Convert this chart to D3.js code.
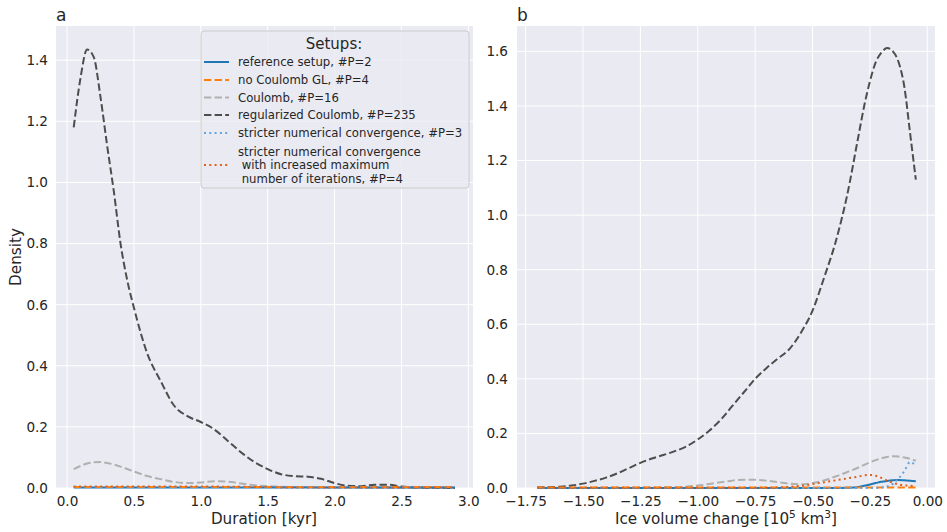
<!DOCTYPE html>
<html>
<head>
<meta charset="utf-8">
<script src="https://cdn.jsdelivr.net/npm/d3@7"></script>
<style>
  body { margin: 0; background: #fff; }
  svg text { font-family: "DejaVu Sans", sans-serif; fill: #262626; }
</style>
</head>
<body>
<svg id="chart" width="947" height="532"></svg>
<script>
// panel a: duration [kyr]
var durX = [0.05, 0.1, 0.15, 0.2, 0.25, 0.3, 0.35, 0.4, 0.45, 0.5, 0.6, 0.7, 0.8, 0.9, 1.0, 1.1, 1.2, 1.3, 1.4, 1.5, 1.6, 1.7, 1.8, 1.9, 2.0, 2.1, 2.2, 2.3, 2.4, 2.5, 2.6, 2.7, 2.8, 2.9];
var durRef      = [0.002, 0.002, 0.002, 0.002, 0.002, 0.002, 0.002, 0.002, 0.002, 0.002, 0.002, 0.002, 0.002, 0.002, 0.002, 0.002, 0.002, 0.002, 0.002, 0.002, 0.002, 0.002, 0.002, 0.002, 0.002, 0.002, 0.002, 0.002, 0.002, 0.002, 0.002, 0.002, 0.002, 0.002];
var durNoGL     = [0.003, 0.003, 0.003, 0.003, 0.003, 0.003, 0.003, 0.003, 0.003, 0.003, 0.003, 0.003, 0.003, 0.003, 0.003, 0.003, 0.003, 0.003, 0.003, 0.003, 0.003, 0.003, 0.003, 0.003, 0.003, 0.003, 0.003, 0.003, 0.003, 0.003, 0.003, 0.003, 0.003, 0.003];
var durCoulomb  = [0.062, 0.072, 0.08, 0.084, 0.085, 0.082, 0.077, 0.07, 0.062, 0.054, 0.039, 0.029, 0.02, 0.016, 0.018, 0.022, 0.021, 0.015, 0.009, 0.006, 0.004, 0.003, 0.003, 0.002, 0.002, 0.002, 0.001, 0.001, 0.001, 0.001, 0.001, 0.001, 0.001, 0.001];
var durReg      = [1.18, 1.34, 1.435, 1.41, 1.28, 1.12, 0.97, 0.8, 0.68, 0.59, 0.44, 0.35, 0.27, 0.235, 0.216, 0.192, 0.155, 0.117, 0.085, 0.062, 0.045, 0.039, 0.037, 0.03, 0.016, 0.007, 0.006, 0.011, 0.011, 0.005, 0.002, 0.001, 0.0005, 0.0003];
var durStrict   = [0.003, 0.003, 0.003, 0.003, 0.003, 0.003, 0.003, 0.003, 0.003, 0.003, 0.003, 0.003, 0.003, 0.003, 0.003, 0.003, 0.003, 0.003, 0.003, 0.003, 0.003, 0.003, 0.003, 0.003, 0.003, 0.003, 0.003, 0.003, 0.003, 0.003, 0.002, 0.002, 0.002, 0.002];
var durStrictIt = [0.005, 0.005, 0.005, 0.005, 0.005, 0.005, 0.005, 0.005, 0.005, 0.005, 0.005, 0.005, 0.005, 0.005, 0.005, 0.005, 0.004, 0.004, 0.003, 0.003, 0.002, 0.002, 0.002, 0.002, 0.002, 0.002, 0.002, 0.002, 0.002, 0.002, 0.002, 0.002, 0.002, 0.002];

// panel b: ice volume change [10^5 km^3]
var volX = [-1.7, -1.65, -1.6, -1.55, -1.5, -1.45, -1.4, -1.35, -1.3, -1.25, -1.2, -1.15, -1.1, -1.05, -1.0, -0.95, -0.9, -0.85, -0.8, -0.75, -0.7, -0.65, -0.6, -0.55, -0.5, -0.45, -0.4, -0.35, -0.3, -0.275, -0.25, -0.225, -0.2, -0.175, -0.15, -0.125, -0.1, -0.075, -0.05];
var volRef      = [0, 0, 0, 0, 0, 0, 0, 0, 0, 0, 0, 0, 0, 0, 0, 0, 0, 0, 0, 0, 0, 0, 0, 0, 0, 0, 0, 0.001, 0.004, 0.008, 0.013, 0.018, 0.023, 0.026, 0.028, 0.029, 0.028, 0.027, 0.025];
var volNoGL     = [0.002, 0.002, 0.002, 0.002, 0.002, 0.002, 0.002, 0.002, 0.002, 0.002, 0.002, 0.002, 0.002, 0.002, 0.002, 0.002, 0.002, 0.002, 0.002, 0.002, 0.002, 0.002, 0.002, 0.002, 0.002, 0.002, 0.002, 0.002, 0.002, 0.002, 0.002, 0.002, 0.002, 0.002, 0.002, 0.002, 0.002, 0.002, 0.002];
var volCoulomb  = [0.001, 0.001, 0.001, 0.001, 0.001, 0.001, 0.001, 0.001, 0.001, 0.001, 0.001, 0.002, 0.003, 0.005, 0.009, 0.015, 0.021, 0.027, 0.03, 0.03, 0.027, 0.021, 0.016, 0.014, 0.018, 0.028, 0.042, 0.058, 0.075, 0.085, 0.094, 0.102, 0.109, 0.114, 0.116, 0.115, 0.112, 0.107, 0.1];
var volReg      = [0.002, 0.003, 0.005, 0.009, 0.016, 0.026, 0.038, 0.054, 0.073, 0.092, 0.108, 0.121, 0.135, 0.152, 0.178, 0.21, 0.25, 0.3, 0.35, 0.4, 0.44, 0.475, 0.51, 0.57, 0.65, 0.77, 0.9, 1.07, 1.29, 1.4, 1.49, 1.56, 1.595, 1.612, 1.6, 1.56, 1.47, 1.3, 1.13];
var volStrict   = [0, 0, 0, 0, 0, 0, 0, 0, 0, 0, 0, 0, 0, 0, 0, 0, 0, 0, 0, 0, 0, 0, 0, 0, 0, 0, 0, 0, 0, 0, 0, 0, 0.002, 0.006, 0.015, 0.035, 0.062, 0.095, 0.082];
var volStrictIt = [0.001, 0.001, 0.001, 0.001, 0.001, 0.001, 0.001, 0.001, 0.001, 0.001, 0.001, 0.001, 0.001, 0.001, 0.001, 0.001, 0.001, 0.001, 0.001, 0.001, 0.001, 0.002, 0.004, 0.008, 0.014, 0.021, 0.028, 0.035, 0.042, 0.046, 0.048, 0.045, 0.037, 0.027, 0.019, 0.013, 0.01, 0.008, 0.007];

var durTicks = [0, 0.5, 1, 1.5, 2, 2.5, 3];
var volTicks = [-1.75, -1.5, -1.25, -1, -0.75, -0.5, -0.25, 0];

var setups = [
    {label: ["reference setup, #P=2"], color: "#1f77b4", dash: null},
    {label: ["no Coulomb GL, #P=4"], color: "#ff7f0e", dash: "7.4,3.2"},
    {label: ["Coulomb, #P=16"], color: "#b0b0b0", dash: "7.4,3.2"},
    {label: ["regularized Coulomb, #P=235"], color: "#4d4d4d", dash: "7.4,3.2"},
    {label: ["stricter numerical convergence, #P=3"], color: "#65a3dc", dash: "2,3.3"},
    {label: ["stricter numerical convergence", " with increased maximum", " number of iterations, #P=4"], color: "#e0601a", dash: "2,3.3"}
];
var durSeries = [durRef, durNoGL, durCoulomb, durReg, durStrict, durStrictIt];
var volSeries = [volRef, volNoGL, volCoulomb, volReg, volStrict, volStrictIt];

var svg = d3.select("#chart");
var plotTop = 26, plotBottom = 488;

function panel(opts) {
    var x = d3.scaleLinear().domain(opts.xDomain).range([opts.left, opts.right]);
    var y = d3.scaleLinear().domain(opts.yDomain).range([plotBottom, plotTop]);
    var g = svg.append("g");

    g.append("rect")
        .attr("x", opts.left).attr("y", plotTop)
        .attr("width", opts.right - opts.left).attr("height", plotBottom - plotTop)
        .attr("fill", "#eaeaf2");

    // grid
    g.append("g").selectAll("line")
        .data(opts.xTicks).enter().append("line")
        .attr("x1", d => x(d)).attr("x2", d => x(d))
        .attr("y1", plotTop).attr("y2", plotBottom)
        .attr("stroke", "#fff").attr("stroke-width", 1);
    g.append("g").selectAll("line")
        .data(opts.yTicks).enter().append("line")
        .attr("x1", opts.left).attr("x2", opts.right)
        .attr("y1", d => y(d)).attr("y2", d => y(d))
        .attr("stroke", "#fff").attr("stroke-width", 1);

    var xAxis = d3.axisBottom(x).tickValues(opts.xTicks).tickSize(0).tickPadding(8)
        .tickFormat(d => opts.xFmt(d).replace("-", "\u2212"));
    g.append("g").attr("transform", "translate(0," + plotBottom + ")").call(xAxis)
        .call(s => s.select(".domain").remove())
        .selectAll("text").style("font-size", "13.6px").attr("fill", "#262626");

    var yAxis = d3.axisLeft(y).tickValues(opts.yTicks).tickSize(0).tickPadding(opts.left - opts.yLabelEnd)
        .tickFormat(d3.format(".1f"));
    g.append("g").attr("transform", "translate(" + opts.left + ",0)").call(yAxis)
        .call(s => s.select(".domain").remove())
        .selectAll("text").style("font-size", "13.6px").attr("fill", "#262626");

    var line = d3.line().x(p => x(p[0])).y(p => y(p[1])).curve(d3.curveMonotoneX);
    var order = [2, 3, 0, 1, 4, 5];
    order.forEach(function (i) {
        var pts = opts.xs.map((v, k) => [v, opts.series[i][k]]);
        g.append("path")
            .datum(pts)
            .attr("d", line)
            .attr("fill", "none")
            .attr("stroke", setups[i].color)
            .attr("stroke-width", 2)
            .attr("stroke-dasharray", setups[i].dash);
    });

    g.append("text").attr("x", opts.left).attr("y", 21)
        .style("font-size", "17px").text(opts.title);

    return g;
}

panel({
    left: 56, right: 473, xDomain: [-0.0825, 3.035], yDomain: [0, 1.512],
    xTicks: durTicks, yTicks: [0, 0.2, 0.4, 0.6, 0.8, 1.0, 1.2, 1.4],
    xFmt: d3.format(".1f"), yLabelEnd: 48,
    xs: durX, series: durSeries, title: "a"
});
panel({
    left: 517, right: 935, xDomain: [-1.7875, 0.0335], yDomain: [0, 1.693],
    xTicks: volTicks, yTicks: [0, 0.2, 0.4, 0.6, 0.8, 1.0, 1.2, 1.4, 1.6],
    xFmt: d3.format(".2f"), yLabelEnd: 508,
    xs: volX, series: volSeries, title: "b"
});

// axis labels
svg.append("text").attr("x", 264).attr("y", 524).attr("text-anchor", "middle")
    .style("font-size", "15.2px").text("Duration [kyr]");
var xl = svg.append("text").attr("x", 726).attr("y", 524).attr("text-anchor", "middle")
    .style("font-size", "15.2px");
xl.append("tspan").text("Ice volume change [10");
xl.append("tspan").attr("dy", -6).style("font-size", "10.6px").text("5");
xl.append("tspan").attr("dy", 6).text(" km");
xl.append("tspan").attr("dy", -6).style("font-size", "10.6px").text("3");
xl.append("tspan").attr("dy", 6).text("]");
svg.append("text").attr("transform", "translate(21,257) rotate(-90)").attr("text-anchor", "middle")
    .style("font-size", "15.2px").text("Density");

// legend
var lg = svg.append("g");
lg.append("rect").attr("x", 201).attr("y", 31).attr("width", 268).attr("height", 157)
    .attr("rx", 3).attr("fill", "#eaeaf2").attr("fill-opacity", 0.8)
    .attr("stroke", "#cccccc").attr("stroke-width", 1);
lg.append("text").attr("x", 334).attr("y", 48.5).attr("text-anchor", "middle")
    .style("font-size", "15px").text("Setups:");
var rowY = [62, 80, 97.5, 115, 133, 165];
setups.forEach(function (s, i) {
    var cy = rowY[i];
    lg.append("line").attr("x1", 204).attr("x2", 229).attr("y1", cy).attr("y2", cy)
        .attr("stroke", s.color).attr("stroke-width", 2)
        .attr("stroke-dasharray", s.dash);
    var n = s.label.length;
    s.label.forEach(function (t, k) {
        lg.append("text").attr("x", 238).attr("y", cy + 4.2 + (k - (n - 1) / 2) * 13.5)
            .style("font-size", "11.7px").style("white-space", "pre").text(t);
    });
});
</script>
</body>
</html>
